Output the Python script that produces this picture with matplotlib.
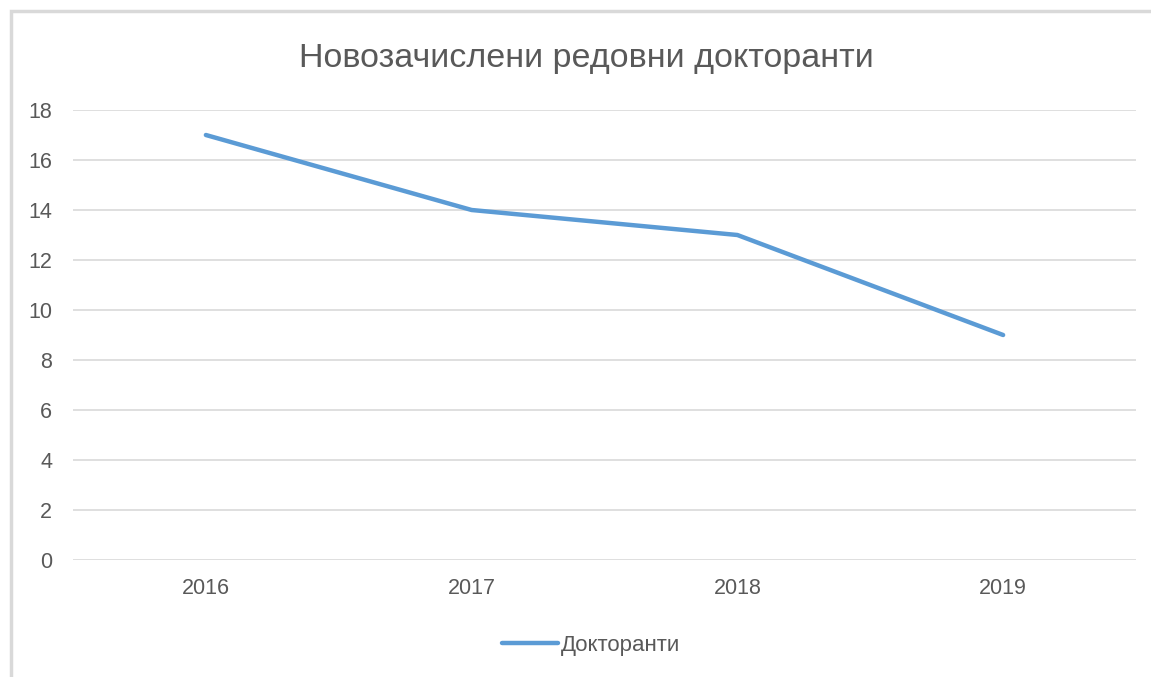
import numpy as np
import matplotlib
matplotlib.use('Agg')
import matplotlib.pyplot as plt
from matplotlib.patches import Rectangle

plt.rcParams['font.family'] = ['Liberation Sans', 'DejaVu Sans']

years = ['2016', '2017', '2018', '2019']
doktoranti = [17, 14, 13, 9]
yticks = [0, 2, 4, 6, 8, 10, 12, 14, 16, 18]

txt_col = '#595959'
grid_col = '#D9D9D9'
line_col = '#5B9BD5'

fig = plt.figure(figsize=(11.51, 6.77), dpi=100)
ax = fig.add_axes([73 / 1151, 1 - 560 / 677, (1136 - 73) / 1151, 450 / 677])

x = np.arange(len(years))
ax.plot(x, doktoranti, color=line_col, lw=3.2, solid_capstyle='round',
        label='Докторанти')

ax.set_xlim(-0.5, len(years) - 0.5)
ax.set_ylim(0, 18)
ax.set_yticks(yticks)
ax.set_xticks(x)
ax.set_xticklabels(years)
ax.yaxis.grid(True, color=grid_col, lw=1.2)
ax.set_axisbelow(True)
for s in ax.spines.values():
    s.set_visible(False)
ax.tick_params(axis='both', length=0, colors=txt_col, labelsize=15.5)
ax.tick_params(axis='y', pad=15)
ax.tick_params(axis='x', pad=13)

fig.text(586 / 1151, 1 - 58 / 677, 'Новозачислени редовни докторанти',
         ha='center', va='center', fontsize=24.5, color=txt_col)

leg = fig.legend(loc='center', bbox_to_anchor=(591 / 1151, 1 - 645 / 677),
                 frameon=False, fontsize=16, handlelength=2.5,
                 handletextpad=0.12, labelcolor=txt_col)

# chart frame (only left and top edges visible in the crop)
fig.patches.append(Rectangle((11 / 1151, -0.1), 1.2, 1 - 11 / 677 + 0.1,
                             transform=fig.transFigure, fill=False,
                             edgecolor=grid_col, lw=2.5))

fig.savefig('out.png', dpi=100)
